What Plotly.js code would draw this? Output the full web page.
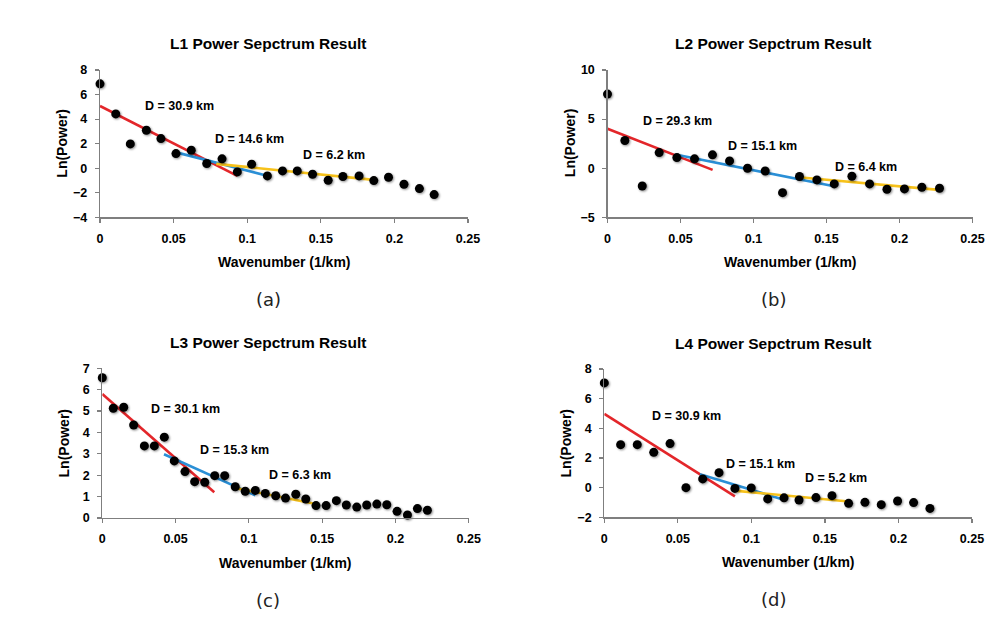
<!DOCTYPE html>
<html>
<head>
<meta charset="utf-8">
<script src="https://cdn.plot.ly/plotly-3.0.1.min.js"></script>
<style>
html,body{margin:0;padding:0;background:#fff;}
#chart{width:1002px;height:624px;}
.scatterlayer .trace .points path{filter:drop-shadow(1.5px 1.5px 1px rgba(0,0,0,0.45));}
</style>
</head>
<body>
<div id="chart"></div>
<script>
// ---- Data ----
const panelTitles = ["L1 Power Sepctrum Result","L2 Power Sepctrum Result","L3 Power Sepctrum Result","L4 Power Sepctrum Result"];
const panelLetters = ["(a)","(b)","(c)","(d)"];
const xTitle = "Wavenumber (1/km)";
const yTitle = "Ln(Power)";

const xa = [0,0.0107,0.0206,0.0315,0.0414,0.0516,0.062,0.0725,0.0829,0.0933,0.103,0.1137,0.124,0.134,0.1444,0.155,0.165,0.176,0.186,0.196,0.2065,0.217,0.227];
const ya = [6.87,4.42,1.98,3.09,2.41,1.19,1.46,0.38,0.76,-0.30,0.33,-0.63,-0.22,-0.22,-0.49,-0.98,-0.68,-0.63,-1.01,-0.74,-1.31,-1.66,-2.15];

const xb = [0,0.0119,0.0238,0.0354,0.0475,0.0596,0.0719,0.0836,0.0959,0.108,0.1199,0.1315,0.1434,0.1553,0.1674,0.1795,0.1914,0.2034,0.2153,0.2274];
const yb = [7.55,2.82,-1.81,1.59,1.08,0.95,1.36,0.74,0,-0.28,-2.49,-0.85,-1.19,-1.60,-0.82,-1.60,-2.14,-2.11,-1.94,-2.04];

const xc = [0,0.0075,0.0146,0.0214,0.0287,0.0355,0.0423,0.0491,0.0564,0.063,0.0699,0.0767,0.0835,0.0907,0.0975,0.1044,0.1112,0.1183,0.125,0.132,0.1388,0.1458,0.1527,0.1597,0.1665,0.1736,0.1804,0.1873,0.1941,0.2011,0.2082,0.215,0.2218];
const yc = [6.56,5.13,5.18,4.35,3.37,3.37,3.78,2.67,2.17,1.70,1.67,1.98,1.98,1.46,1.25,1.29,1.15,1.04,0.93,1.11,0.89,0.58,0.58,0.81,0.61,0.51,0.61,0.65,0.62,0.31,0.14,0.44,0.36];

const xd = [0,0.0111,0.0224,0.0336,0.0447,0.0555,0.0669,0.078,0.0888,0.0999,0.1111,0.1222,0.1324,0.1439,0.1548,0.1661,0.1772,0.1883,0.1994,0.2103,0.2214];
const yd = [7.06,2.90,2.90,2.38,2.97,0.0,0.59,1.01,-0.05,-0.02,-0.76,-0.69,-0.83,-0.67,-0.54,-1.06,-0.99,-1.15,-0.90,-1.01,-1.40];

// fitted segments: [x0,x1], [y0,y1] for red (deep), blue (middle), yellow (shallow)
const fitA = {red:[[0,0.0933],[5.07,-0.63]], blue:[[0.0498,0.1155],[1.35,-0.68]], yellow:[[0.079,0.186],[0.35,-0.95]]};
const fitB = {red:[[0,0.072],[4.01,-0.17]], blue:[[0.0474,0.156],[1.36,-1.87]], yellow:[[0.131,0.227],[-0.92,-2.21]]};
const fitC = {red:[[0,0.0764],[5.80,1.20]], blue:[[0.0421,0.1044],[2.98,1.06]], yellow:[[0.0894,0.1458],[1.42,0.65]]};
const fitD = {red:[[0,0.0888],[4.97,-0.59]], blue:[[0.065,0.122],[0.90,-0.81]], yellow:[[0.0884,0.1661],[-0.20,-0.94]]};

// depth labels: text, x, y
const labA = [["D = 30.9 km",0.054,5.07],["D = 14.6 km",0.1015,2.36],["D = 6.2 km",0.159,1.08]];
const labB = [["D = 29.3 km",0.048,4.8],["D = 15.1 km",0.106,2.28],["D = 6.4 km",0.177,0.16]];
const labC = [["D = 30.1 km",0.057,5.1],["D = 15.3 km",0.09,3.18],["D = 6.3 km",0.135,2.0]];
const labD = [["D = 30.9 km",0.056,4.8],["D = 15.1 km",0.106,1.6],["D = 5.2 km",0.1575,0.63]];

const yRanges = [[-4,8],[-5,10],[0,7],[-2,8]];
const yDticks = [2,5,1,2];

// ---- Layout geometry (pixels) ----
const W = 1002, H = 624;
const boxes = [
  {l:100, r:468, t:70, b:217.3},
  {l:607.5, r:972.5, t:70, b:217.3},
  {l:102.3, r:468.7, t:368.3, b:518},
  {l:604.3, r:972, t:369, b:517.3}
];
const colors = {red:'#e3262a', blue:'#2a8fd6', yellow:'#f7c21b'};
const FONT = 'Liberation Sans, Arial, sans-serif';

const datasets = [[xa,ya,fitA,labA],[xb,yb,fitB,labB],[xc,yc,fitC,labC],[xd,yd,fitD,labD]];
const traces = [];
const annotations = [];
const layout = {
  width: W, height: H,
  margin:{l:0,r:0,t:0,b:0},
  paper_bgcolor:'#fff', plot_bgcolor:'#fff',
  showlegend:false,
  font:{family:FONT, color:'#000'}
};

function paperNote(px, py, text, font, extra){
  return Object.assign({xref:'paper', yref:'paper', x:px/W, y:1-py/H, xanchor:'center', yanchor:'middle',
    text:text, showarrow:false, font:font}, extra||{});
}

datasets.forEach((d,i)=>{
  const n = i===0 ? '' : String(i+1);
  const xr = 'x'+n, yr = 'y'+n;
  const bx = boxes[i];
  ['red','blue','yellow'].forEach(c=>{
    traces.push({x:d[2][c][0], y:d[2][c][1], xaxis:xr, yaxis:yr, mode:'lines',
      line:{color:colors[c], width:2.6}, hoverinfo:'skip'});
  });
  traces.push({x:d[0], y:d[1], xaxis:xr, yaxis:yr, mode:'markers', cliponaxis:false,
    marker:{color:'#000', size:9}});
  d[3].forEach(l=>{
    annotations.push({xref:xr, yref:yr, x:l[1], y:l[2], xanchor:'center', yanchor:'middle',
      text:'<b>'+l[0]+'</b>', showarrow:false, font:{family:FONT, size:12.5, color:'#000'}});
  });
  const axisCommon = {showline:true, linecolor:'#7f7f7f', linewidth:1.2, ticks:'outside', ticklen:4,
    tickcolor:'#7f7f7f', tickwidth:1.2, showgrid:false, zeroline:false,
    tickfont:{family:FONT, size:12.5, color:'#000', weight:'bold'}};
  layout['xaxis'+n] = Object.assign({}, axisCommon, {
    domain:[bx.l/W, bx.r/W], anchor:yr, range:[0,0.25], dtick:0.05, tick0:0, ticklabelstandoff:5});
  layout['yaxis'+n] = Object.assign({}, axisCommon, {
    domain:[1-bx.b/H, 1-bx.t/H], anchor:xr, range:yRanges[i], dtick:yDticks[i], ticklabelstandoff:5});
  const cx = (bx.l+bx.r)/2;
  const titleX = i%2===0 ? 268 : 773;
  annotations.push(paperNote(titleX, bx.t-26, '<b>'+panelTitles[i]+'</b>', {family:FONT, size:15.5, color:'#000'}));
  annotations.push(paperNote(cx, bx.b+45, '<b>'+xTitle+'</b>', {family:FONT, size:14, color:'#000'}));
  annotations.push(paperNote(bx.l-38, (bx.t+bx.b)/2, '<b>'+yTitle+'</b>', {family:FONT, size:14, color:'#000'}, {textangle:-90}));
  annotations.push(paperNote(titleX, bx.b+82, panelLetters[i], {family:'DejaVu Sans, sans-serif', size:18, color:'#222'}));
});
layout.annotations = annotations;

Plotly.newPlot('chart', traces, layout, {staticPlot:true, displayModeBar:false});
</script>
</body>
</html>
